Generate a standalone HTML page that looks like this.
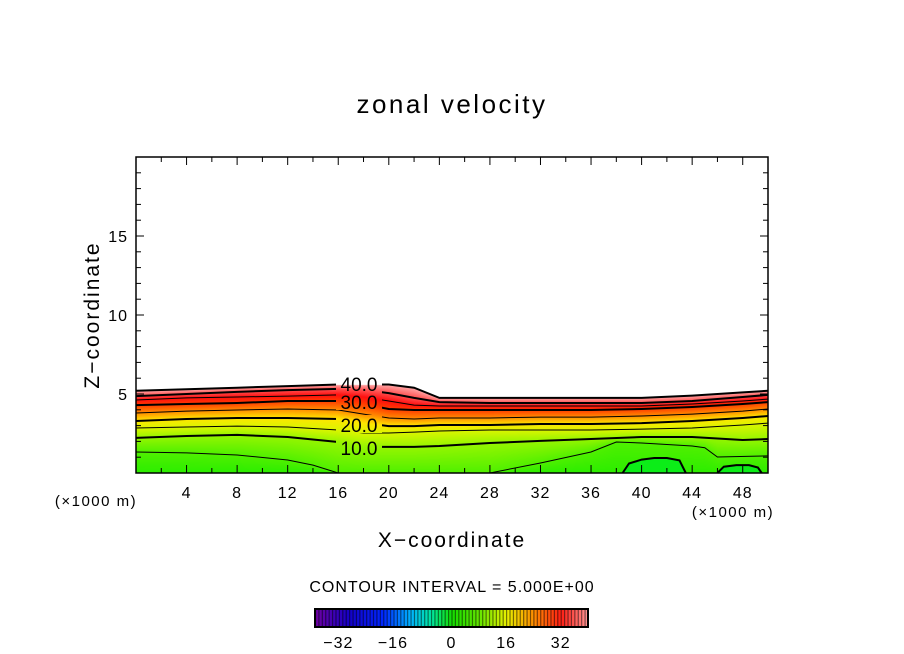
<!DOCTYPE html>
<html><head><meta charset="utf-8"><style>
body{margin:0;background:#fff;width:904px;height:654px;overflow:hidden;position:relative;font-family:"Liberation Sans",sans-serif}
canvas{position:absolute;left:0;top:0}
svg{position:absolute;left:0;top:0}
</style></head><body>
<canvas id="cv" width="904" height="654"></canvas>
<svg id="sv" width="904" height="654">
<defs><mask id="lblmask" maskUnits="userSpaceOnUse" x="0" y="0" width="904" height="654">
<rect x="0" y="0" width="904" height="654" fill="#fff"/>
<rect x="336" y="374" width="46" height="18" fill="#000"/>
<rect x="336" y="392" width="46" height="18" fill="#000"/>
<rect x="336" y="415" width="46" height="18" fill="#000"/>
<rect x="336" y="438" width="46" height="18" fill="#000"/>
</mask></defs>
<g id="lines" mask="url(#lblmask)"></g>
</svg>
<script>
// x positions (×1000 m) for main contour levels
const xs=[0,4,8,12,16,18,20,22,24,28,32,36,40,44,48,50];
const levels=[10,15,20,25,30,35,40,45];
const z10=[2.22,2.34,2.41,2.28,1.96,1.65,1.65,1.65,1.71,1.90,2.03,2.15,2.28,2.28,2.09,2.15];
const z15=[2.85,2.91,2.97,2.91,2.72,2.53,2.53,2.59,2.66,2.72,2.72,2.72,2.78,2.85,3.04,3.16];
const z20=[3.29,3.42,3.48,3.48,3.42,3.16,2.97,2.97,3.04,3.04,3.10,3.10,3.16,3.29,3.48,3.61];
const z25=[3.80,3.92,3.99,4.05,3.99,3.73,3.48,3.42,3.48,3.48,3.54,3.54,3.61,3.73,3.92,4.05];
const z30=[4.30,4.37,4.43,4.56,4.56,4.37,4.05,3.99,3.99,3.99,3.99,3.99,4.05,4.18,4.37,4.49];
const z35=[4.62,4.75,4.81,4.87,4.94,4.81,4.56,4.30,4.24,4.24,4.24,4.24,4.24,4.37,4.56,4.68];
const z40=[4.87,5.00,5.13,5.25,5.32,5.25,5.06,4.75,4.49,4.43,4.43,4.43,4.43,4.56,4.81,4.94];
const z45=[5.20,5.30,5.40,5.50,5.60,5.60,5.60,5.40,4.75,4.75,4.75,4.75,4.75,4.90,5.10,5.20];
const xs5=[0,4,8,12,14,16,28,32,36,38,40,44,45,46,50];
const z5=[1.33,1.27,1.14,0.82,0.5,0,0,0.63,1.33,1.96,1.90,1.71,1.6,1.01,1.08];
const zeroA_x=[38.5,39,40,41,42,43,43.5];
const zeroA_z=[0,0.6,0.85,0.95,0.95,0.8,0];
const zeroB_x=[46,46.5,47.5,48.5,49.2,49.5];
const zeroB_z=[0,0.4,0.5,0.5,0.35,0];
const xTicks=[4,8,12,16,20,24,28,32,36,40,44,48];
const yTicks=[5,10,15];
const cbTicks=[-32,-16,0,16,32];

const X0=136,X1=768,Y0=473,Y1=157;
const sx=x=>X0+(x)*(X1-X0)/50, sy=z=>Y0-z*(Y0-Y1)/20;
const interp=(ax,ay,x)=>{if(x<=ax[0])return ay[0];for(let i=1;i<ax.length;i++)if(x<=ax[i]){const t=(x-ax[i-1])/(ax[i]-ax[i-1]);return ay[i-1]+t*(ay[i]-ay[i-1]);}return ay[ay.length-1];};
const stops=[[-5,[0,240,60]],[0,[20,235,0]],[5,[80,240,0]],[10,[150,245,0]],[15,[220,245,0]],[20,[255,230,0]],[25,[255,140,0]],[30,[255,60,0]],[35,[255,15,15]],[40,[255,80,80]],[45,[255,170,170]]];
function col(v){if(v<=stops[0][0])return stops[0][1];for(let i=1;i<stops.length;i++)if(v<=stops[i][0]){const t=(v-stops[i-1][0])/(stops[i][0]-stops[i-1][0]);return stops[i-1][1].map((c,k)=>Math.round(c+t*(stops[i][1][k]-c)));}return stops[stops.length-1][1];}
const zs=[z10,z15,z20,z25,z30,z35,z40,z45];
const cv=document.getElementById('cv'),ctx=cv.getContext('2d');
const img=ctx.createImageData(X1-X0,Y0-Y1);
for(let px=X0;px<X1;px++){
  const x=(px-X0+0.5)*50/(X1-X0);
  const h=zs.map(a=>interp(xs,a,x));
  const h5=interp(xs5,z5,x);
  let hA=(x>zeroA_x[0]&&x<zeroA_x[zeroA_x.length-1])?interp(zeroA_x,zeroA_z,x):0;
  let hB=(x>zeroB_x[0]&&x<zeroB_x[zeroB_x.length-1])?interp(zeroB_x,zeroB_z,x):0;
  for(let py=Y1;py<Y0;py++){
    const z=(Y0-py-0.5)*20/(Y0-Y1);
    if(z>h[7])continue;
    let v;
    if(z>=h[0]){for(let i=1;i<8;i++)if(z<=h[i]){v=levels[i-1]+5*(z-h[i-1])/(h[i]-h[i-1]);break;}}
    else if(z>=h5){v=5+5*(z-h5)/Math.max(h[0]-h5,0.01);}
    else{v=2+3*z/Math.max(h5,0.01);const hz=Math.max(hA,hB);if(z<hz)v=-2;}
    const c=col(v),o=((py-Y1)*(X1-X0)+(px-X0))*4;
    img.data[o]=c[0];img.data[o+1]=c[1];img.data[o+2]=c[2];img.data[o+3]=255;
  }
}
ctx.putImageData(img,X0,Y1);

const NS='http://www.w3.org/2000/svg',sv=document.getElementById('sv'),lg=document.getElementById('lines');
function el(t,a,txt,parent){const e=document.createElementNS(NS,t);for(const k in a)e.setAttribute(k,a[k]);if(txt!==undefined&&txt!==null)e.textContent=txt;(parent||sv).appendChild(e);return e;}
function line(ax,az,w,name){let d='';for(let i=0;i<ax.length;i++)d+=(i?'L':'M')+sx(ax[i]).toFixed(1)+','+sy(az[i]).toFixed(1);const p=el('path',{d:d,fill:'none',stroke:'#000','stroke-width':w},null,lg);

}
levels.forEach((L,i)=>line(xs,zs[i],(L%10===0||L===45)?2:1,'contour-'+L));
line(xs5,z5,1,'contour-5');
line(zeroA_x,zeroA_z,2,'contour-0-a');
line(zeroB_x,zeroB_z,2,'contour-0-b');
[['40.0',384],['30.0',402],['20.0',425],['10.0',448]].forEach(([t,y])=>{
 const e=el('text',{x:359,y:y+7,'font-size':19,'text-anchor':'middle'},t);
 
 });
// frame
const fr=el('rect',{x:X0,y:Y1,width:X1-X0,height:Y0-Y1,fill:'none',stroke:'#000','stroke-width':1.5});

for(let x=2;x<50;x+=2){const L=x%4===0?8:5;
 el('line',{x1:sx(x),x2:sx(x),y1:Y0,y2:Y0-L,stroke:'#000'});
 el('line',{x1:sx(x),x2:sx(x),y1:Y1,y2:Y1+L,stroke:'#000'});}
for(let z=1;z<20;z++){const L=z%5===0?8:5;
 el('line',{x1:X0,x2:X0+L,y1:sy(z),y2:sy(z),stroke:'#000'});
 el('line',{x1:X1,x2:X1-L,y1:sy(z),y2:sy(z),stroke:'#000'});}
xTicks.forEach(v=>{const e=el('text',{x:sx(v),y:498,'font-size':16,'text-anchor':'middle','letter-spacing':'1'},String(v));
 });
yTicks.forEach(v=>{const e=el('text',{x:128,y:sy(v)+6,'font-size':16,'text-anchor':'end','letter-spacing':'1'},String(v));
 });
function T(x,y,s,t,name,extra){const e=el('text',Object.assign({x:x,y:y,'font-size':s,'text-anchor':'middle'},extra||{}),t);}
T(452,113,26,'zonal velocity','chart-title',{'letter-spacing':'2.5'});
T(452,547,21,'X\u2212coordinate','x-axis-title',{'letter-spacing':'2'});
T(92,322,21,'Z\u2212coordinate','y-axis-title',{transform:'rotate(-90 92 315)','letter-spacing':'2'});
T(96,506,15,'(\u00d71000 m)','x-unit-left',{'letter-spacing':'1.5'});
T(733,517,15,'(\u00d71000 m)','x-unit-right',{'letter-spacing':'1.5'});
T(452,592,16,'CONTOUR INTERVAL = 5.000E+00','contour-interval',{'letter-spacing':'1'});
// colorbar
const CB0=315,CB1=588,cbx=v=>CB0+(v+40)*(CB1-CB0)/80;
const rb=[[-40,[110,0,160]],[-30,[20,0,200]],[-20,[0,40,255]],[-12,[0,180,255]],[-6,[0,230,160]],[0,[20,220,0]],[8,[100,230,0]],[16,[230,240,0]],[24,[255,140,0]],[32,[255,30,20]],[40,[255,150,150]]];
function rcol(v){for(let i=1;i<rb.length;i++)if(v<=rb[i][0]){const t=(v-rb[i-1][0])/(rb[i][0]-rb[i-1][0]);return 'rgb('+rb[i-1][1].map((c,k)=>Math.round(c+t*(rb[i][1][k]-c))).join(',')+')';}return 'rgb(255,150,150)';}
for(let v=-40;v<40;v++){const r=el('rect',{x:cbx(v),y:609,width:cbx(v+1)-cbx(v)+0.3,height:18,fill:rcol(v+0.5)});
 
 el('line',{x1:cbx(v)+0.5,x2:cbx(v)+0.5,y1:609,y2:627,stroke:'rgba(0,0,0,0.5)','stroke-width':1.2});}
const cbf=el('rect',{x:CB0,y:609,width:CB1-CB0,height:18,fill:'none',stroke:'#000','stroke-width':2});

cbTicks.forEach(v=>T(cbx(v)-(v<0?4:0),648,16,(v<0?'\u2212':'')+Math.abs(v),'colorbar-tick-label',{'letter-spacing':'1'}));
</script>
</body></html>
